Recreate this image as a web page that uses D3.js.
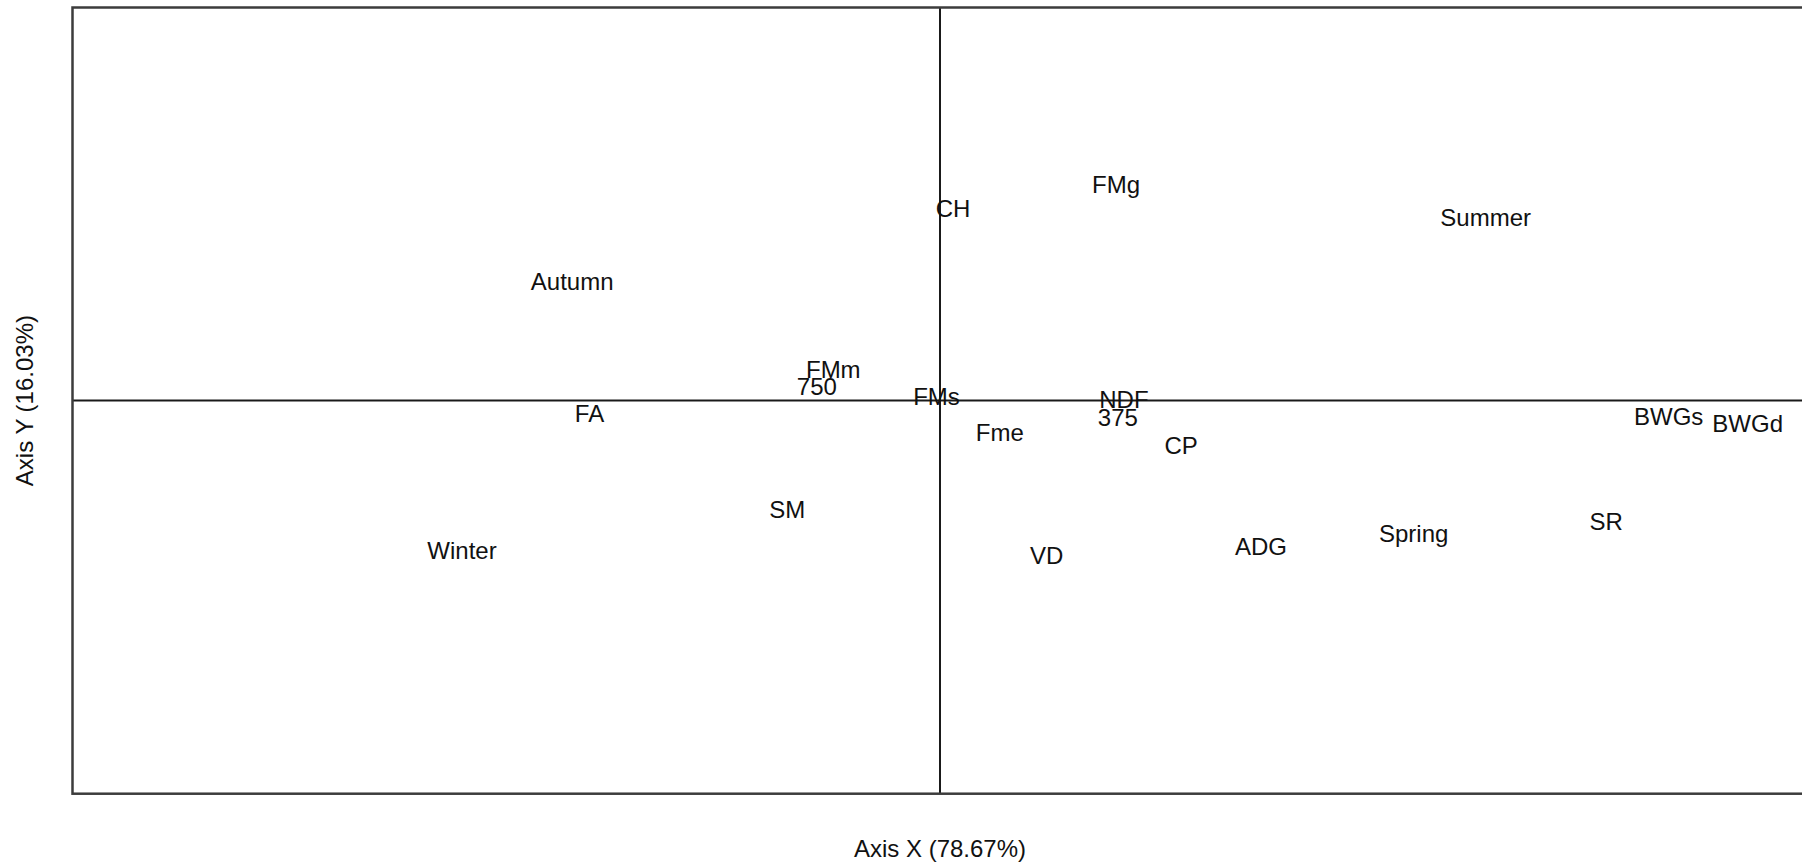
<!DOCTYPE html>
<html>
<head>
<meta charset="utf-8">
<script src="https://cdn.jsdelivr.net/npm/d3@7"></script>
<style>
  html, body { margin: 0; padding: 0; background: #fff; overflow: hidden; }
  svg { display: block; }
  text { font-family: "Liberation Sans", Arial, sans-serif; fill: #111; }
</style>
</head>
<body>
<svg id="chart" width="1802" height="862"></svg>
<script>
// Ordination scores (axis X, axis Y) for variables and seasons
const labels = ["CH", "FMg", "Summer", "Autumn", "FMm", "750", "FMs", "NDF", "375", "FA",
                "Fme", "CP", "BWGs", "BWGd", "SM", "SR", "Spring", "ADG", "Winter", "VD"];
const xScores = [0.015, 0.203, 0.629, -0.424, -0.123, -0.142, -0.004, 0.212, 0.205, -0.404,
                 0.069, 0.278, 0.840, 0.931, -0.176, 0.768, 0.546, 0.370, -0.551, 0.123];
const yScores = [0.490, 0.551, 0.467, 0.303, 0.080, 0.035, 0.010, 0.004, -0.043, -0.033,
                 -0.082, -0.115, -0.041, -0.057, -0.276, -0.308, -0.337, -0.372, -0.381, -0.393];

const xDomain = [-1, 1];
const yDomain = [-1, 1];
const xTitle = "Axis X (78.67%)";
const yTitle = "Axis Y (16.03%)";

const svg = d3.select("#chart");
const margin = { left: 72.5, right: -5.5, top: 7.5, bottom: 68.3 };
const W = 1802, H = 862;

const x = d3.scaleLinear().domain(xDomain).range([margin.left, W - margin.right]);
const y = d3.scaleLinear().domain(yDomain).range([H - margin.bottom, margin.top]);

const points = labels.map((l, i) => ({ label: l, x: xScores[i], y: yScores[i] }));

// zero reference lines
svg.append("line")
  .attr("x1", x(xDomain[0])).attr("x2", x(xDomain[1]))
  .attr("y1", y(0)).attr("y2", y(0))
  .attr("stroke", "#1a1a1a").attr("stroke-width", 2);
svg.append("line")
  .attr("x1", x(0)).attr("x2", x(0))
  .attr("y1", y(yDomain[0])).attr("y2", y(yDomain[1]))
  .attr("stroke", "#1a1a1a").attr("stroke-width", 2);

// plot frame
svg.append("rect")
  .attr("x", x(xDomain[0])).attr("y", y(yDomain[1]))
  .attr("width", x(xDomain[1]) - x(xDomain[0]))
  .attr("height", y(yDomain[0]) - y(yDomain[1]))
  .attr("fill", "none").attr("stroke", "#3c3c3c").attr("stroke-width", 2.5);

// score labels
svg.append("g").selectAll("text")
  .data(points)
  .join("text")
  .attr("x", d => x(d.x))
  .attr("y", d => y(d.y))
  .attr("dy", "0.36em")
  .attr("text-anchor", "middle")
  .attr("font-size", 24)
  .text(d => d.label);

// axis titles
const cx = (x(xDomain[0]) + x(xDomain[1])) / 2;
const cy = (y(yDomain[0]) + y(yDomain[1])) / 2;
svg.append("text")
  .attr("x", cx).attr("y", 848).attr("dy", "0.36em")
  .attr("text-anchor", "middle").attr("font-size", 24)
  .text(xTitle);
svg.append("text")
  .attr("transform", `translate(24,${cy}) rotate(-90)`)
  .attr("dy", "0.36em")
  .attr("text-anchor", "middle").attr("font-size", 24)
  .text(yTitle);
</script>
</body>
</html>
